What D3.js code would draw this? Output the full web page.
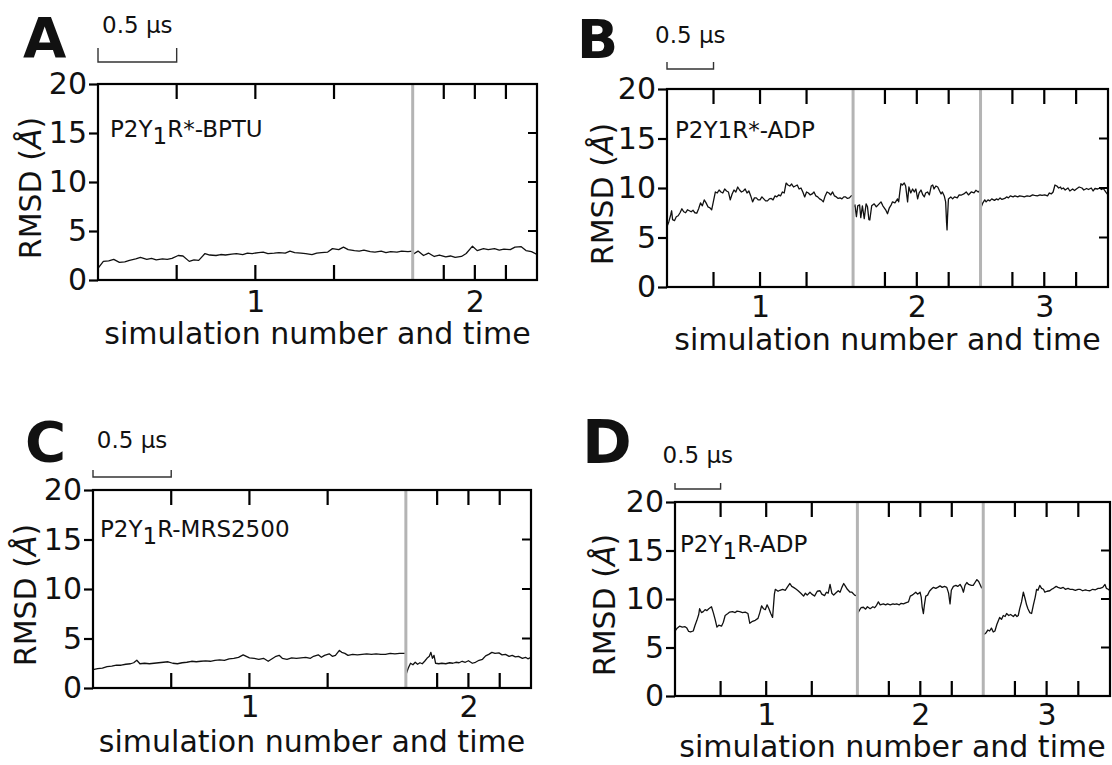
<!DOCTYPE html>
<html><head><meta charset="utf-8">
<script src="https://cdn.jsdelivr.net/npm/d3@7"></script>
<style>
body{margin:0;background:#fff}
svg{display:block}
text{font-family:"DejaVu Sans",sans-serif;fill:#111}
</style>
</head><body>
<svg id="chart" width="1112" height="765"></svg>
<script>
// ---------- data ----------
const yTicks = [0, 5, 10, 15, 20];
const rightTicks = [5, 10, 15];
const simLabels = ["1", "2", "3"];
const scaleBarUs = 0.5;
const panelLetters = ["A", "B", "C", "D"];
const panelNames = [["P2Y", "1", "R*-BPTU"], ["P2Y1R*-ADP", "", ""], ["P2Y", "1", "R-MRS2500"], ["P2Y", "1", "R-ADP"]];
const xTitle = "simulation number and time";

// simulation durations (µs)
const durA = [2.0, 0.79];
const durB = [2.0, 1.37, 1.37];
const durC = [2.0, 0.80];
const durD = [2.0, 1.38, 1.39];

// RMSD traces: [time within simulation (µs), RMSD (Å)]
const rmsdA1 = [[0,1.2],[0.034,1.9],[0.068,1.95],[0.10,2.1],[0.136,1.8],[0.17,1.85],[0.20,2.0],[0.24,2.15],[0.27,2.3],[0.31,2.1],[0.34,2.2],[0.37,2.05],[0.41,2.15],[0.44,2.1],[0.47,2.2],[0.51,2.5],[0.54,2.45],[0.58,1.9],[0.61,2.05],[0.64,2.0],[0.68,2.7],[0.71,2.55],[0.75,2.5],[0.78,2.6],[0.81,2.55],[0.85,2.65],[0.88,2.7],[0.92,2.6],[0.95,2.75],[0.98,2.7],[1.02,2.8],[1.05,2.85],[1.08,2.7],[1.12,2.75],[1.15,2.8],[1.19,2.75],[1.22,2.95],[1.25,2.8],[1.29,2.75],[1.32,2.7],[1.36,2.6],[1.39,2.75],[1.42,2.8],[1.46,2.85],[1.49,3.2],[1.53,3.1],[1.56,3.35],[1.59,3.1],[1.63,3.0],[1.66,2.95],[1.69,3.05],[1.73,2.9],[1.76,2.85],[1.80,2.95],[1.83,2.8],[1.86,2.9],[1.90,2.85],[1.93,2.95],[1.97,2.9],[2.00,2.95]];
const rmsdA2 = [[0,2.6],[0.034,2.95],[0.069,2.5],[0.10,2.75],[0.137,2.4],[0.17,2.55],[0.21,2.35],[0.24,2.45],[0.27,2.3],[0.31,2.4],[0.34,2.7],[0.38,3.45],[0.41,3.0],[0.45,3.2],[0.48,3.1],[0.52,3.2],[0.55,3.05],[0.58,3.15],[0.62,3.1],[0.65,3.35],[0.69,3.4],[0.72,3.0],[0.755,2.9],[0.79,2.6]];

const rmsdB1 = [[0,6.1],[0.02,6.6],[0.04,7.3],[0.05,7.7],[0.06,6.8],[0.08,6.7],[0.10,7.1],[0.12,7.2],[0.14,7.5],[0.16,7.9],[0.18,7.6],[0.20,7.5],[0.22,7.8],[0.24,7.7],[0.26,7.6],[0.28,7.75],[0.30,7.5],[0.32,7.45],[0.34,7.9],[0.36,8.5],[0.38,8.2],[0.40,8.8],[0.42,8.5],[0.44,8.1],[0.46,8.0],[0.48,7.8],[0.50,8.7],[0.52,9.6],[0.54,9.5],[0.56,9.8],[0.58,9.6],[0.60,9.5],[0.62,9.9],[0.64,9.7],[0.66,9.6],[0.68,8.8],[0.70,9.4],[0.72,9.8],[0.74,9.6],[0.76,10.1],[0.78,9.8],[0.80,9.6],[0.82,9.7],[0.84,9.9],[0.86,9.5],[0.88,9.7],[0.90,9.2],[0.92,8.6],[0.94,9.0],[0.96,9.0],[0.98,8.8],[1.00,8.8],[1.02,9.1],[1.04,8.9],[1.06,8.7],[1.08,8.7],[1.10,8.9],[1.12,8.95],[1.14,8.8],[1.16,9.2],[1.18,9.1],[1.20,9.3],[1.22,9.2],[1.24,9.6],[1.26,9.5],[1.28,10.5],[1.30,10.3],[1.32,10.2],[1.34,10.4],[1.36,10.1],[1.38,10.2],[1.40,10.3],[1.42,9.9],[1.44,10.0],[1.46,9.6],[1.48,9.1],[1.50,9.6],[1.52,9.5],[1.54,9.3],[1.56,9.4],[1.58,9.6],[1.60,9.2],[1.62,9.1],[1.64,8.9],[1.66,8.8],[1.68,8.6],[1.70,9.2],[1.72,9.6],[1.74,9.5],[1.76,9.3],[1.78,9.6],[1.80,9.2],[1.82,9.1],[1.84,8.95],[1.86,9.0],[1.88,8.9],[1.90,9.1],[1.92,9.1],[1.94,8.95],[1.96,9.0],[1.98,9.2],[2.00,9.27]];
const rmsdB2 = [[0,8.0],[0.02,8.3],[0.036,7.1],[0.05,8.2],[0.07,8.3],[0.083,7.0],[0.10,8.2],[0.12,6.9],[0.14,8.4],[0.155,8.1],[0.17,6.8],[0.18,6.77],[0.20,8.2],[0.227,8.4],[0.25,8.1],[0.27,8.3],[0.30,8.6],[0.32,8.2],[0.35,7.8],[0.37,7.4],[0.39,8.0],[0.41,8.3],[0.424,8.6],[0.45,8.5],[0.478,8.9],[0.49,8.6],[0.50,9.4],[0.514,10.43],[0.53,10.3],[0.55,10.5],[0.565,10.2],[0.586,8.6],[0.60,10.1],[0.62,9.5],[0.64,9.9],[0.658,9.6],[0.675,9.9],[0.694,8.9],[0.71,9.5],[0.73,9.8],[0.75,9.3],[0.766,9.1],[0.78,9.5],[0.80,9.6],[0.82,9.3],[0.84,10.2],[0.856,10.3],[0.87,9.9],[0.89,10.2],[0.91,10.1],[0.93,9.7],[0.946,9.4],[0.96,9.6],[0.98,9.2],[0.995,8.6],[1.005,6.5],[1.01,5.77],[1.015,7.0],[1.025,8.9],[1.05,9.1],[1.07,8.9],[1.09,9.1],[1.12,9.0],[1.14,9.3],[1.16,9.27],[1.19,9.4],[1.216,9.6],[1.24,9.3],[1.27,9.6],[1.30,9.5],[1.32,9.77],[1.345,9.6],[1.37,9.8]];
const rmsdB3 = [[0,7.9],[0.025,8.5],[0.045,8.8],[0.06,8.6],[0.08,8.8],[0.10,8.7],[0.12,8.9],[0.15,8.75],[0.17,8.9],[0.19,8.8],[0.21,9.0],[0.23,8.85],[0.26,8.95],[0.28,9.1],[0.30,9.0],[0.32,9.2],[0.35,9.1],[0.37,9.2],[0.40,9.1],[0.42,9.2],[0.45,9.15],[0.47,9.1],[0.50,9.2],[0.53,9.15],[0.56,9.3],[0.58,9.25],[0.61,9.2],[0.64,9.3],[0.66,9.25],[0.69,9.3],[0.72,9.2],[0.74,9.5],[0.76,9.4],[0.78,9.6],[0.80,10.3],[0.82,10.2],[0.84,10.0],[0.86,10.1],[0.87,9.9],[0.89,10.0],[0.91,9.8],[0.94,10.0],[0.96,9.7],[0.99,9.9],[1.01,9.75],[1.03,9.9],[1.06,10.1],[1.09,10.0],[1.11,9.8],[1.14,9.95],[1.16,9.85],[1.19,10.0],[1.21,9.7],[1.23,9.95],[1.26,9.9],[1.28,10.0],[1.30,9.85],[1.32,9.95],[1.345,9.6],[1.37,9.3]];

const rmsdC1 = [[0,1.85],[0.03,1.95],[0.06,2.0],[0.09,2.15],[0.12,2.2],[0.15,2.3],[0.18,2.3],[0.21,2.4],[0.24,2.45],[0.26,2.55],[0.28,2.8],[0.30,2.45],[0.33,2.5],[0.36,2.45],[0.39,2.5],[0.42,2.55],[0.45,2.6],[0.48,2.65],[0.51,2.5],[0.54,2.45],[0.57,2.55],[0.60,2.6],[0.63,2.7],[0.66,2.65],[0.69,2.7],[0.72,2.75],[0.75,2.7],[0.78,2.8],[0.81,2.85],[0.84,2.8],[0.87,2.95],[0.90,3.0],[0.93,3.1],[0.96,3.35],[0.98,3.2],[1.00,3.05],[1.03,3.0],[1.06,2.9],[1.09,3.0],[1.12,2.7],[1.15,3.0],[1.17,3.2],[1.19,3.3],[1.21,3.0],[1.24,2.9],[1.27,3.05],[1.30,3.0],[1.33,3.05],[1.36,3.1],[1.39,3.0],[1.41,3.2],[1.44,3.35],[1.46,3.1],[1.48,3.3],[1.51,3.45],[1.53,3.2],[1.55,3.3],[1.575,3.8],[1.59,3.6],[1.61,3.5],[1.63,3.3],[1.66,3.4],[1.69,3.35],[1.72,3.4],[1.75,3.45],[1.78,3.4],[1.81,3.45],[1.84,3.4],[1.87,3.4],[1.90,3.5],[1.93,3.45],[1.96,3.5],[2.00,3.5]];
const rmsdC2 = [[0,1.3],[0.015,2.0],[0.03,2.5],[0.045,2.35],[0.06,2.6],[0.075,2.4],[0.09,2.55],[0.105,2.45],[0.12,2.7],[0.135,3.0],[0.15,3.2],[0.16,3.6],[0.17,3.0],[0.18,3.3],[0.19,2.5],[0.21,2.45],[0.23,2.5],[0.255,2.45],[0.28,2.55],[0.30,2.5],[0.32,2.6],[0.34,2.55],[0.36,2.7],[0.38,2.6],[0.40,2.75],[0.425,2.5],[0.445,2.6],[0.468,2.8],[0.49,2.9],[0.51,3.25],[0.53,3.4],[0.55,3.6],[0.57,3.5],[0.595,3.55],[0.615,3.35],[0.637,3.4],[0.66,3.2],[0.68,3.3],[0.70,3.15],[0.72,3.2],[0.745,3.0],[0.765,3.1],[0.78,2.95],[0.80,3.1]];

const rmsdD1 = [[0,6.7],[0.02,6.95],[0.05,7.2],[0.08,7.1],[0.11,7.15],[0.13,7.0],[0.15,6.65],[0.17,6.6],[0.2,6.7],[0.22,7.3],[0.24,7.8],[0.26,8.4],[0.27,9.0],[0.29,8.6],[0.31,8.7],[0.33,8.9],[0.35,8.8],[0.37,9.0],[0.40,9.2],[0.42,8.6],[0.44,7.9],[0.46,7.1],[0.48,7.3],[0.51,7.2],[0.53,7.6],[0.55,8.3],[0.58,8.5],[0.60,8.65],[0.63,8.7],[0.66,8.6],[0.68,8.75],[0.71,8.7],[0.74,8.6],[0.77,8.65],[0.80,8.5],[0.82,7.5],[0.85,7.7],[0.88,7.8],[0.91,8.0],[0.93,8.6],[0.95,9.3],[0.97,9.0],[0.99,8.9],[1.01,9.4],[1.03,9.0],[1.05,8.5],[1.07,8.1],[1.09,10.5],[1.10,11.0],[1.13,10.8],[1.15,10.9],[1.18,11.0],[1.21,10.9],[1.23,11.2],[1.26,11.6],[1.28,11.3],[1.30,11.2],[1.33,11.0],[1.35,10.85],[1.38,10.6],[1.41,10.3],[1.43,10.6],[1.45,10.4],[1.48,10.7],[1.50,10.5],[1.53,10.3],[1.56,10.8],[1.59,10.85],[1.61,10.5],[1.64,10.35],[1.66,10.7],[1.68,10.6],[1.70,11.5],[1.72,10.6],[1.74,10.4],[1.76,10.6],[1.79,10.85],[1.81,10.7],[1.83,11.2],[1.85,11.6],[1.87,11.3],[1.89,11.0],[1.92,10.7],[1.94,10.7],[1.97,10.4],[2.00,10.3]];
const rmsdD2 = [[0,8.5],[0.02,8.8],[0.04,9.1],[0.066,9.15],[0.09,8.95],[0.11,9.2],[0.14,9.0],[0.17,9.2],[0.19,9.1],[0.21,9.35],[0.23,9.7],[0.25,9.4],[0.285,9.5],[0.31,9.4],[0.33,9.5],[0.36,9.4],[0.39,9.5],[0.41,9.45],[0.43,9.5],[0.46,9.4],[0.48,9.55],[0.505,9.5],[0.53,9.6],[0.56,9.7],[0.58,10.3],[0.60,10.4],[0.614,10.5],[0.64,10.7],[0.66,10.5],[0.687,10.7],[0.70,10.2],[0.71,9.2],[0.724,8.5],[0.735,9.4],[0.75,10.3],[0.77,10.4],[0.79,10.8],[0.81,11.0],[0.834,11.2],[0.86,11.1],[0.88,11.2],[0.907,11.35],[0.93,11.2],[0.955,11.3],[0.98,11.2],[1.0,10.6],[1.016,9.5],[1.03,10.9],[1.053,11.3],[1.08,11.4],[1.10,11.3],[1.126,11.5],[1.145,11.2],[1.163,10.7],[1.18,11.4],[1.20,11.7],[1.22,11.5],[1.25,11.4],[1.27,11.4],[1.29,11.7],[1.31,12.0],[1.33,11.8],[1.345,11.5],[1.36,11.2],[1.38,11.0]];
const rmsdD3 = [[0,6.3],[0.03,6.5],[0.05,6.8],[0.07,6.7],[0.09,7.0],[0.11,6.6],[0.128,6.7],[0.15,7.4],[0.18,8.1],[0.20,7.9],[0.22,8.3],[0.24,8.2],[0.256,8.5],[0.28,8.3],[0.30,8.4],[0.33,8.2],[0.35,8.4],[0.37,8.2],[0.384,8.3],[0.40,9.0],[0.42,9.7],[0.44,10.7],[0.46,10.0],[0.475,9.4],[0.49,9.0],[0.51,8.6],[0.53,8.5],[0.55,9.4],[0.57,10.2],[0.585,11.0],[0.60,10.9],[0.62,11.4],[0.64,11.1],[0.66,11.0],[0.676,10.7],[0.70,10.8],[0.73,10.85],[0.75,11.0],[0.77,11.1],[0.80,11.3],[0.82,11.2],[0.85,11.1],[0.877,11.2],[0.90,11.0],[0.93,11.1],[0.95,11.0],[0.98,11.0],[1.01,10.9],[1.04,11.0],[1.06,11.0],[1.09,10.85],[1.12,10.95],[1.14,10.9],[1.17,10.85],[1.20,11.0],[1.23,10.95],[1.26,11.1],[1.28,11.1],[1.31,11.2],[1.335,11.5],[1.35,11.1],[1.37,11.0],[1.39,10.85]];

// ---------- layout ----------
const layouts = [
  {left:98, right:537, top:84, bottom:280, letter:{x:23,y:57,size:56}, bar:{y:62,h:14,labelY:33}, note:{x:110,y:137}, ylabX:30, tickY:312, titleY:344},
  {left:667, right:1108, top:89, bottom:287, letter:{x:577,y:58,size:54}, bar:{y:69,h:7,labelY:43}, note:{x:675,y:138}, ylabX:602, tickY:317, titleY:350},
  {left:93, right:531, top:490, bottom:688, letter:{x:25,y:461,size:56}, bar:{y:477,h:7,labelY:448}, note:{x:100,y:537}, ylabX:25, tickY:717, titleY:752},
  {left:675, right:1110, top:502, bottom:696, letter:{x:582,y:463,size:60}, bar:{y:489,h:6,labelY:463}, note:{x:680,y:552}, ylabX:604, tickY:725, titleY:757}
];
const panels = [
  {dur:durA, series:[rmsdA1, rmsdA2]},
  {dur:durB, series:[rmsdB1, rmsdB2, rmsdB3]},
  {dur:durC, series:[rmsdC1, rmsdC2]},
  {dur:durD, series:[rmsdD1, rmsdD2, rmsdD3]}
];

const svg = d3.select("#chart");
const FS = 30;
const INK = "#000";

panels.forEach((p, pi) => {
  const L = layouts[pi];
  const g = svg.append("g");
  const offsets = [];
  let acc = 0;
  p.dur.forEach(d => { offsets.push(acc); acc += d; });
  const total = acc;
  const x = d3.scaleLinear().domain([0, total]).range([L.left, L.right]);
  const y = d3.scaleLinear().domain([0, 20]).range([L.bottom, L.top]);

  const quarters = [], mids = [], bounds = [];
  p.dur.forEach((d, i) => {
    quarters.push(offsets[i] + d * 0.25, offsets[i] + d * 0.5, offsets[i] + d * 0.75);
    mids.push(offsets[i] + d * 0.5);
    if (i > 0) bounds.push(offsets[i]);
  });

  const bl = g.append("g").attr("transform", `translate(0,${L.bottom})`)
    .call(d3.axisBottom(x).tickValues(mids).tickSize(0).tickPadding(L.tickY - L.bottom - 0.71 * FS)
      .tickFormat((d, i) => simLabels[i]));
  const la = g.append("g").attr("transform", `translate(${L.left},0)`)
    .call(d3.axisLeft(y).tickValues(yTicks).tickSize(9).tickPadding(2));
  [bl, la].forEach(a => {
    a.select(".domain").remove();
    a.selectAll("line").attr("stroke", INK).attr("stroke-width", 2.2);
    a.selectAll("text").attr("font-size", FS).attr("font-family", "DejaVu Sans").attr("fill", "#111");
  });

  const cid = "clip" + pi;
  svg.append("clipPath").attr("id", cid).append("rect")
    .attr("x", L.left).attr("y", L.top).attr("width", L.right - L.left).attr("height", L.bottom - L.top);

  p.series.forEach((s, si) => {
    const line = d3.line().x(d => x(offsets[si] + d[0])).y(d => y(d[1]));
    g.append("path").datum(s).attr("d", line).attr("clip-path", `url(#${cid})`)
      .attr("fill", "none").attr("stroke", "#111").attr("stroke-width", 1.3).attr("stroke-linejoin", "round");
  });

  g.append("g").selectAll("line").data(bounds).join("line")
    .attr("x1", d => x(d)).attr("x2", d => x(d)).attr("y1", L.top).attr("y2", L.bottom)
    .attr("stroke", "#b4b4b4").attr("stroke-width", 3);

  g.append("rect").attr("x", L.left).attr("y", L.top).attr("width", L.right - L.left).attr("height", L.bottom - L.top)
    .attr("fill", "none").attr("stroke", INK).attr("stroke-width", 2.2);

  // inward ticks: bottom & top at quarter points of each simulation, right at 5/10/15
  let tickD = "";
  quarters.forEach(q => {
    const xp = x(q);
    tickD += `M${xp},${L.bottom}V${L.bottom - 15}M${xp},${L.top}V${L.top + 15}`;
  });
  rightTicks.forEach(v => {
    const yp = y(v);
    tickD += `M${L.right},${yp}H${L.right - 9}`;
  });
  g.append("path").attr("d", tickD).attr("fill", "none").attr("stroke", INK).attr("stroke-width", 2.2);

  const x0 = x(0), x1 = x(scaleBarUs);
  g.append("path").attr("d", `M${x0},${L.bar.y - L.bar.h}V${L.bar.y}H${x1}V${L.bar.y - L.bar.h}`)
    .attr("fill", "none").attr("stroke", "#333").attr("stroke-width", 1.4);
  g.append("text").attr("x", (x0 + x1) / 2).attr("y", L.bar.labelY).attr("text-anchor", "middle")
    .attr("font-size", 23).text("0.5 µs");

  g.append("text").attr("x", L.letter.x).attr("y", L.letter.y).attr("font-size", L.letter.size)
    .attr("font-weight", "bold").attr("fill", "#000").text(panelLetters[pi]);

  const nm = panelNames[pi];
  const nt = g.append("text").attr("x", L.note.x).attr("y", L.note.y).attr("font-size", 23);
  nt.append("tspan").text(nm[0]);
  if (nm[1]) {
    nt.append("tspan").attr("dy", 7).text(nm[1]);
    nt.append("tspan").attr("dy", -7).text(nm[2]);
  }

  g.append("text").attr("x", (L.left + L.right) / 2).attr("y", L.titleY).attr("text-anchor", "middle")
    .attr("font-size", FS).text(xTitle);
  const yt = g.append("text").attr("transform", `translate(${L.ylabX},${(L.top + L.bottom) / 2 + 6}) rotate(-90)`)
    .attr("text-anchor", "middle").attr("dy", "0.35em").attr("font-size", FS);
  yt.append("tspan").text("RMSD (");
  yt.append("tspan").attr("font-style", "italic").text("Å");
  yt.append("tspan").text(")");
});
</script>
</body></html>
